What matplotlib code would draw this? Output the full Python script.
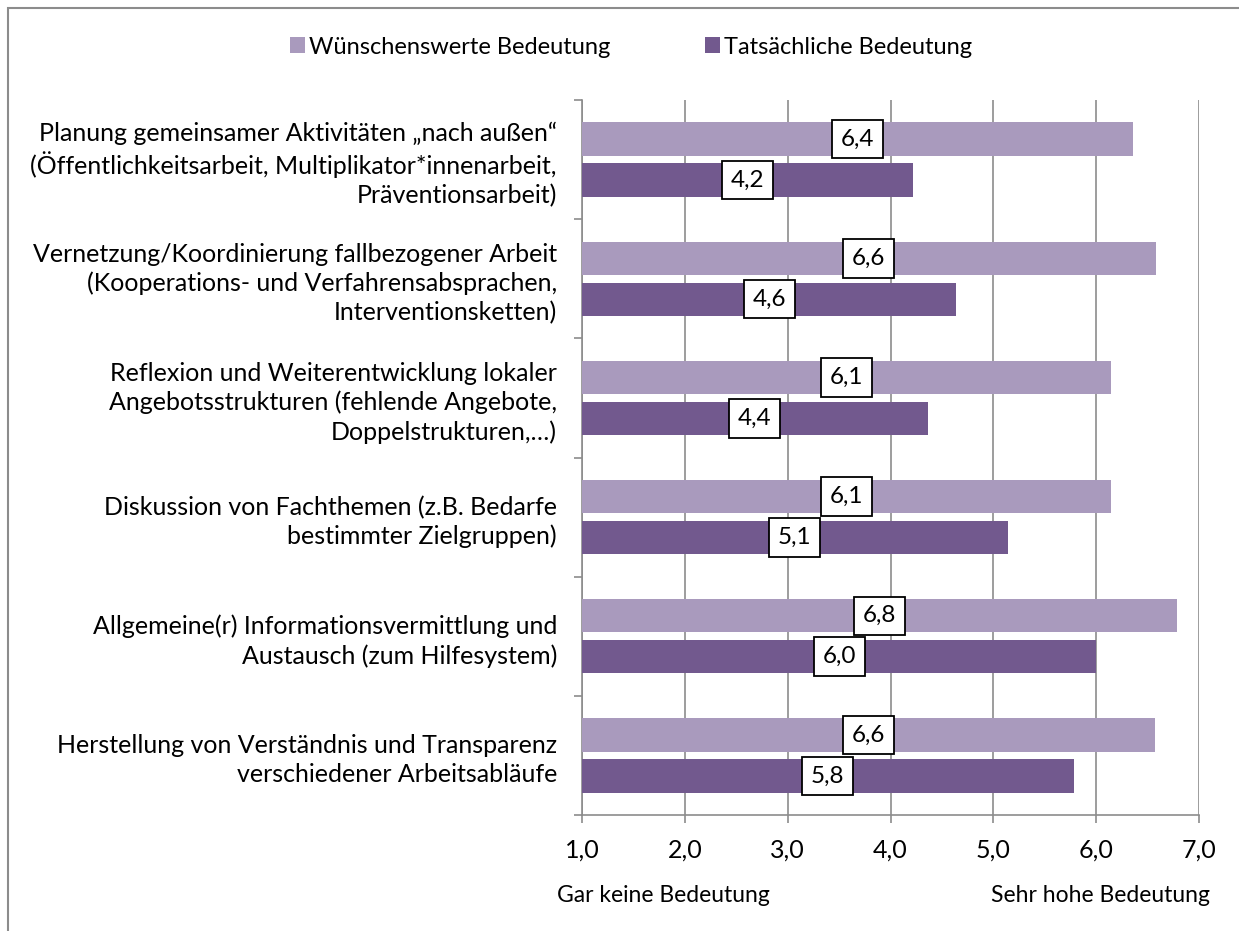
import numpy as np
import matplotlib
matplotlib.use("Agg")
import matplotlib.pyplot as plt
from matplotlib.patches import Rectangle

plt.rcParams['font.family'] = ['Lato', 'DejaVu Sans']

# Data
categories = [
    "Planung gemeinsamer Aktivitäten „nach außen“\n(Öffentlichkeitsarbeit, Multiplikator*innenarbeit,\nPräventionsarbeit)",
    "Vernetzung/Koordinierung fallbezogener Arbeit\n(Kooperations- und Verfahrensabsprachen,\nInterventionsketten)",
    "Reflexion und Weiterentwicklung lokaler\nAngebotsstrukturen (fehlende Angebote,\nDoppelstrukturen,…)",
    "Diskussion von Fachthemen (z.B. Bedarfe\nbestimmter Zielgruppen)",
    "Allgemeine(r) Informationsvermittlung und\nAustausch (zum Hilfesystem)",
    "Herstellung von Verständnis und Transparenz\nverschiedener Arbeitsabläufe",
]
wuenschenswert = [6.36, 6.58, 6.14, 6.14, 6.79, 6.57]
tatsaechlich = [4.22, 4.64, 4.36, 5.14, 6.00, 5.78]
series_names = ["Wünschenswerte Bedeutung", "Tatsächliche Bedeutung"]
xticks = [1, 2, 3, 4, 5, 6, 7]

light = "#A99ABD"
dark = "#72598E"
grid_col = "#8C8C8C"

fig = plt.figure(figsize=(12.39, 9.31), dpi=100)
ax = fig.add_axes([582 / 1239, 1 - 815 / 931, 617 / 1239, 715 / 931])

y = np.arange(len(categories))
h = 0.28
off = 0.172
b1 = ax.barh(y - off, np.array(wuenschenswert) - 1, left=1, height=h, color=light,
             label=series_names[0], zorder=3)
b2 = ax.barh(y + off, np.array(tatsaechlich) - 1, left=1, height=h, color=dark,
             label=series_names[1], zorder=3)

# value labels in boxes, centred on the bar
box = dict(boxstyle="square,pad=0.36", fc="white", ec="black", lw=1.3)
for yy, v in zip(y, wuenschenswert):
    ax.text((1 + v) / 2, yy - off, f"{v:.1f}".replace(".", ","), ha="center", va="center",
            fontsize=17.5, zorder=5, bbox=box)
for yy, v in zip(y, tatsaechlich):
    ax.text((1 + v) / 2, yy + off, f"{v:.1f}".replace(".", ","), ha="center", va="center",
            fontsize=17.5, zorder=5, bbox=box)

ax.set_xlim(1, 7)
ax.set_ylim(len(categories) - 0.5, -0.5)
ax.set_xticks(xticks)
ax.set_xticklabels([f"{t:.1f}".replace(".", ",") for t in xticks], fontsize=18)
ax.set_yticks(y)
ax.set_yticklabels(categories, fontsize=18, linespacing=1.3)
ax.set_yticks(np.arange(-0.5, len(categories)), minor=True)
ax.tick_params(axis="y", which="major", length=0, pad=18)
ax.tick_params(axis="y", which="minor", length=6, width=1.2, color=grid_col)
ax.tick_params(axis="x", length=6, width=1.2, color=grid_col, pad=11)

ax.grid(axis="x", color=grid_col, lw=1.2, zorder=0)
for s in ["top", "right"]:
    ax.spines[s].set_visible(False)
for s in ["left", "bottom"]:
    ax.spines[s].set_color(grid_col)
    ax.spines[s].set_linewidth(1.2)

fig.legend(handles=[b1, b2], loc="center", bbox_to_anchor=(631 / 1239, 1 - 47 / 931),
           ncol=2, frameon=False, fontsize=17, handlelength=0.65, handleheight=0.65,
           handletextpad=0.15, columnspacing=4.0)

fig.text(557 / 1239, 1 - 896 / 931, "Gar keine Bedeutung", ha="left", va="center", fontsize=16.5)
fig.text(1210 / 1239, 1 - 896 / 931, "Sehr hohe Bedeutung", ha="right", va="center", fontsize=16.5)

# outer chart frame (right and bottom edges lie outside the image)
fig.patches.append(Rectangle((8 / 1239, -0.1), 1.2, 1 - 8 / 931 + 0.1, transform=fig.transFigure,
                             fill=False, ec="#8C8C8C", lw=1.5))

fig.savefig("out.png", dpi=100)
